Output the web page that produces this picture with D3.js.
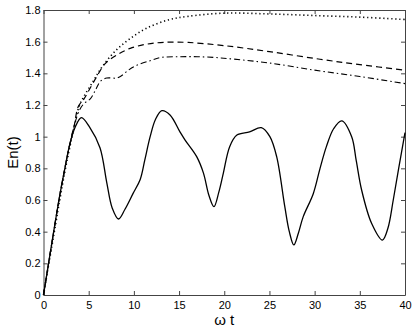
<!DOCTYPE html>
<html>
<head>
<meta charset="utf-8">
<script src="https://cdn.jsdelivr.net/npm/d3@7"></script>
<style>
body { margin: 0; background: #fff; }
svg { display: block; font-family: "Liberation Sans", Arial, sans-serif; }
.axis path, .axis line { stroke: #444; }
.axis text { font-size: 11px; fill: #000; }
</style>
</head>
<body>
<svg id="chart" width="415" height="331"></svg>
<script>
// omega t values and En(t)
var solid_t = [0, 0.9, 1.8, 2.4, 2.9, 3.5, 4.2, 5.1, 6.25, 7.0, 7.6, 8.3, 9.0, 9.9, 10.7, 11.2, 11.8, 12.4, 13.1, 14.0, 15.1, 15.65, 16.95, 17.7, 18.3, 18.86, 19.4, 19.9, 20.6, 21.4, 22.8, 24.1, 25.05, 25.8, 26.7, 27.2, 27.7, 28.2, 28.74, 29.85, 30.6, 31.3, 32.1, 33.0, 34.1, 34.6, 35.2, 36.3, 37.5, 38.1, 38.7, 39.3, 40];
var solid_E = [0, 0.32, 0.63, 0.81, 0.95, 1.06, 1.12, 1.06, 0.93, 0.71, 0.55, 0.48, 0.54, 0.64, 0.73, 0.85, 1.0, 1.11, 1.164, 1.137, 1.03, 0.98, 0.874, 0.77, 0.63, 0.558, 0.65, 0.77, 0.937, 1.01, 1.03, 1.057, 1.0, 0.874, 0.558, 0.4, 0.316, 0.39, 0.495, 0.64, 0.8, 0.937, 1.05, 1.10, 1.0, 0.85, 0.663, 0.453, 0.347, 0.42, 0.6, 0.8, 1.025];

var dashed_t = [0, 0.9, 1.8, 2.4, 2.9, 3.4, 3.85, 4.5, 5.0, 5.9, 6.8, 8.1, 9.6, 11.4, 13.3, 16, 20, 25, 30.6, 35, 40];
var dashed_E = [0, 0.32, 0.63, 0.81, 0.95, 1.07, 1.19, 1.24, 1.29, 1.38, 1.46, 1.515, 1.558, 1.584, 1.596, 1.595, 1.575, 1.537, 1.489, 1.455, 1.42];

var dashdot_t = [0, 0.9, 1.8, 2.4, 2.9, 3.4, 4.0, 4.5, 5.2, 5.8, 6.3, 7.0, 8.0, 8.5, 9.4, 10.3, 11.8, 13, 15, 17, 19, 21, 25, 30, 35, 40];
var dashdot_E = [0, 0.32, 0.63, 0.81, 0.95, 1.07, 1.17, 1.21, 1.24, 1.3, 1.35, 1.37, 1.37, 1.38, 1.42, 1.45, 1.48, 1.5, 1.505, 1.505, 1.5, 1.49, 1.465, 1.42, 1.38, 1.335];

var dotted_t = [0, 0.9, 1.8, 2.4, 2.9, 3.4, 4.0, 5.5, 6.6, 8.1, 9.6, 11.4, 13.8, 16, 20, 25, 30, 35, 40];
var dotted_E = [0, 0.3, 0.6, 0.79, 0.93, 1.06, 1.2, 1.35, 1.45, 1.55, 1.62, 1.685, 1.737, 1.76, 1.78, 1.775, 1.765, 1.755, 1.74];

var x_ticks = [0, 5, 10, 15, 20, 25, 30, 35, 40];
var y_ticks = [0, 0.2, 0.4, 0.6, 0.8, 1, 1.2, 1.4, 1.6, 1.8];

function pairs(ts, es) {
    var out = [];
    for (var i = 0; i < ts.length; i++) {
        out.push({t: ts[i], e: es[i]});
    }
    return out;
}

var svg = d3.select("#chart");
var pad_left = 43.5, pad_right = 405, pad_top = 10, pad_bot = 295;

var x = d3.scaleLinear().domain([0, 40]).range([pad_left, pad_right]);
var y = d3.scaleLinear().domain([0, 1.8]).range([pad_bot, pad_top]);

// box with inward ticks on all sides
svg.append("g").attr("class", "axis")
        .attr("transform", "translate(0," + pad_bot + ")")
        .call(d3.axisBottom(x).tickValues(x_ticks).tickSizeInner(-4).tickSizeOuter(0).tickPadding(6).tickFormat(d3.format("d")));
svg.append("g").attr("class", "axis")
        .attr("transform", "translate(0," + pad_top + ")")
        .call(d3.axisTop(x).tickValues(x_ticks).tickSizeInner(-4).tickSizeOuter(0).tickFormat(""));
svg.append("g").attr("class", "axis")
        .attr("transform", "translate(" + pad_left + ",0)")
        .call(d3.axisLeft(y).tickValues(y_ticks).tickSizeInner(-4).tickSizeOuter(0).tickPadding(3).tickFormat(function (d) { return String(+d.toFixed(1)); }));
svg.append("g").attr("class", "axis")
        .attr("transform", "translate(" + pad_right + ",0)")
        .call(d3.axisRight(y).tickValues(y_ticks).tickSizeInner(-4).tickSizeOuter(0).tickFormat(""));

var line = d3.line()
        .x(function (d) { return x(d.t); })
        .y(function (d) { return y(d.e); })
        .curve(d3.curveCatmullRom.alpha(0.5));

svg.append("path").datum(pairs(dotted_t, dotted_E))
        .attr("fill", "none").attr("stroke", "#000").attr("stroke-width", 1.6)
        .attr("stroke-dasharray", "1.2,2.8")
        .attr("d", line);
svg.append("path").datum(pairs(dashed_t, dashed_E))
        .attr("fill", "none").attr("stroke", "#000").attr("stroke-width", 1.2)
        .attr("stroke-dasharray", "6,4")
        .attr("d", line);
svg.append("path").datum(pairs(dashdot_t, dashdot_E))
        .attr("fill", "none").attr("stroke", "#000").attr("stroke-width", 1.1)
        .attr("stroke-dasharray", "6,3,1.5,3")
        .attr("d", line);
svg.append("path").datum(pairs(solid_t, solid_E))
        .attr("fill", "none").attr("stroke", "#000").attr("stroke-width", 1.3)
        .attr("d", line);

svg.append("text")
        .attr("x", (pad_left + pad_right) / 2).attr("y", 325)
        .attr("text-anchor", "middle")
        .style("font-size", "15px")
        .text("ω t");
svg.append("text")
        .attr("transform", "translate(18," + ((pad_top + pad_bot) / 2) + ") rotate(-90)")
        .attr("text-anchor", "middle")
        .style("font-size", "15px")
        .text("En(t)");
</script>
</body>
</html>
